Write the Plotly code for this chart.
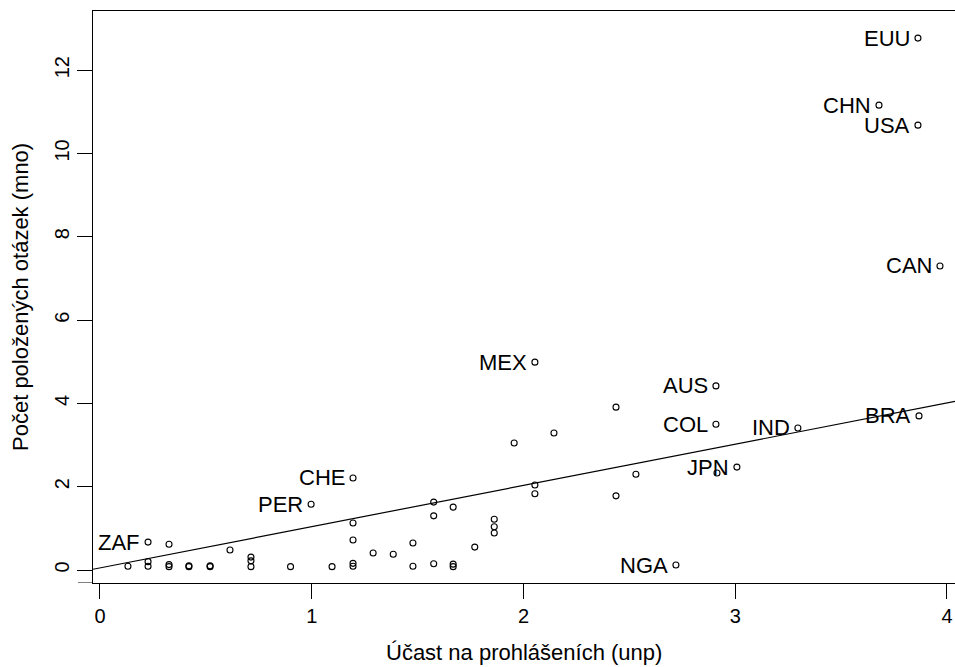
import plotly.graph_objects as go

# ---- data ----
country_codes = ["", "ZAF", "", "", "", "", "", "", "", "", "", "", "", "", "",
                 "", "PER", "", "CHE", "", "", "", "", "", "", "", "", "", "",
                 "", "", "", "", "", "", "", "", "", "MEX", "", "", "", "", "",
                 "", "NGA", "AUS", "COL", "", "JPN", "IND", "CHN", "EUU", "USA",
                 "BRA", "CAN"]
participation_unp = [0.132, 0.227, 0.227, 0.227, 0.326, 0.326, 0.326, 0.42, 0.42,
                     0.52, 0.52, 0.614, 0.713, 0.713, 0.713, 0.90, 0.997, 1.096,
                     1.195, 1.195, 1.195, 1.195, 1.195, 1.29, 1.385, 1.478, 1.478,
                     1.576, 1.576, 1.576, 1.668, 1.668, 1.668, 1.77, 1.862, 1.862,
                     1.862, 1.956, 2.054, 2.054, 2.054, 2.144, 2.437, 2.437, 2.531,
                     2.72, 2.909, 2.909, 2.914, 3.008, 3.296, 3.679, 3.863, 3.863,
                     3.868, 3.967]
questions_mno = [0.09, 0.67, 0.20, 0.09, 0.62, 0.13, 0.08, 0.10, 0.08,
                 0.10, 0.08, 0.48, 0.31, 0.22, 0.08, 0.08, 1.58, 0.08,
                 2.21, 1.13, 0.72, 0.16, 0.09, 0.41, 0.38, 0.65, 0.09,
                 1.63, 1.30, 0.15, 1.51, 0.14, 0.08, 0.55, 1.22, 1.04,
                 0.89, 3.05, 4.99, 2.04, 1.83, 3.29, 3.91, 1.78, 2.30,
                 0.12, 4.42, 3.50, 2.33, 2.47, 3.41, 11.16, 12.77, 10.68,
                 3.70, 7.30]

fit_intercept = 0.05
fit_slope = 0.99

x_ticks = [0, 1, 2, 3, 4]
y_ticks = [0, 2, 4, 6, 8, 10, 12]
x_range = [-0.033, 4.038]
y_range = [-0.312, 13.42]

x_title = "Účast na prohlášeních (unp)"
y_title = "Počet položených otázek (mno)"

FONT = "Liberation Sans, Arial, Helvetica, sans-serif"

fig = go.Figure()

# regression line across the whole plot region
fit_x = list(x_range)
fit_y = [fit_intercept + fit_slope * v for v in fit_x]
fig.add_trace(go.Scatter(x=fit_x, y=fit_y, mode="lines",
                         line=dict(color="black", width=1.2),
                         hoverinfo="skip", showlegend=False))

fig.add_trace(go.Scatter(x=participation_unp, y=questions_mno, mode="markers",
                         marker=dict(symbol="circle-open", size=6,
                                     color="black", line=dict(width=1.1)),
                         showlegend=False))

annotations = []
for cx, cy, name in zip(participation_unp, questions_mno, country_codes):
    if name:
        annotations.append(dict(x=cx, y=cy, xref="x", yref="y", text=name,
                                showarrow=False, xanchor="right", yanchor="middle",
                                xshift=-6, font=dict(family=FONT, size=22, color="black")))

annotations.append(dict(x=0.5, y=-0.122, xref="paper", yref="paper", text=x_title,
                        showarrow=False, xanchor="center", yanchor="middle",
                        font=dict(family=FONT, size=22, color="black")))
annotations.append(dict(x=-0.0847, y=0.5, xref="paper", yref="paper", text=y_title,
                        showarrow=False, xanchor="center", yanchor="middle", textangle=-90,
                        font=dict(family=FONT, size=22, color="black")))

fig.update_layout(
    width=955, height=667,
    margin=dict(l=93, r=0, t=11, b=84),
    paper_bgcolor="white", plot_bgcolor="white",
    font=dict(family=FONT, size=20, color="black"),
    annotations=annotations,
    shapes=[dict(type="line", xref="paper", yref="y", x0=-15/862, x1=0,
                 y0=y_range[0], y1=y_range[0], line=dict(color="black", width=1))],
    xaxis=dict(range=x_range, tickvals=x_ticks, ticks="outside", ticklen=15,
               tickwidth=1, tickcolor="black", showline=True, linecolor="black",
               linewidth=1, mirror=True, showgrid=False, zeroline=False,
               tickfont=dict(family=FONT, size=20, color="black")),
    yaxis=dict(range=y_range, tickvals=y_ticks, ticks="outside", ticklen=15,
               tickwidth=1, tickcolor="black", showline=True, linecolor="black",
               linewidth=1, mirror=False, showgrid=False, zeroline=False,
               tickangle=-90,
               tickfont=dict(family=FONT, size=20, color="black")),
)

fig.write_html("out.html",
               config={"displayModeBar": False},
               post_script="document.body.style.margin='0';document.body.style.overflow='hidden';")
